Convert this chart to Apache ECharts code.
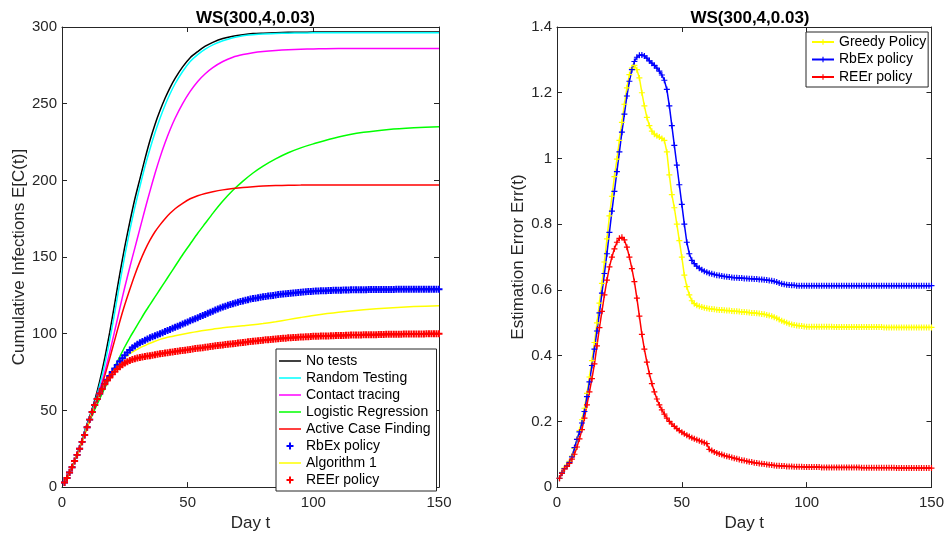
<!DOCTYPE html>
<html><head><meta charset="utf-8">
<script src="https://cdn.jsdelivr.net/npm/echarts@6/dist/echarts.min.js"></script>
<style>html,body{margin:0;padding:0;background:#fff}#c{width:947px;height:537px}</style>
</head><body><div id="c"></div>
<script>
// ---------- DATA ----------
const titleText = 'WS(300,4,0.03)';
const xTicks = [0, 50, 100, 150];
const leftYTicks = [0, 50, 100, 150, 200, 250, 300];
const rightYTicks = [0, 0.2, 0.4, 0.6, 0.8, 1, 1.2, 1.4];

// days for the smooth (marker-less) curves of the left panel
const lineDays = [1,3,5,7,9,11,13,15,17,19,21,23,25,27,29,31,33,35,37,39,41,43,45,48,51,54,57,60,64,68,72,76,80,85,90,95,100,110,120,130,140,150];
const noTests = [3,9.5,17,26,36.5,46,56.5,69,84,101,120,139,157,173,188,201,214,226,236.5,245.5,253.5,260.5,266.5,274,280,284,287.5,290,292.5,294,295,295.7,296,296.3,296.5,296.6,296.7,296.8,296.8,296.8,296.8,296.8];
const randomTesting = [3,9.5,17,26,36,45,55,66.5,80,96,114,133,151,167.5,182.5,196,209,220.5,231,240.5,249,256.5,263,271,277.5,282,285.5,288.3,291,293,294.3,295,295.5,295.8,296,296.1,296.2,296.2,296.2,296.2,296.2,296.2];
const contactTracing = [3,9.5,17,25.5,35,44,53.5,63.5,75,88,102,116.5,130.5,143.5,156,168.5,181,193,204.5,215,224.5,233,240.5,250,258,264.5,269.5,273.5,277.5,280.3,282,283.2,284,284.7,285.2,285.5,285.7,286,286,286,286,286];
const logisticRegression = [3,9.5,17,25.5,34.5,43,50.5,57.5,64.5,71.5,78.5,85,91.5,97.5,103,108.5,114,119,124,129,134,139,144,151.5,158.5,165.5,172,178.5,186.5,193.5,199.5,204.8,209.3,214,218,221.2,223.8,228.3,231.3,233.2,234.3,235];
const activeCaseFinding = [3,9.5,17,25.5,34.5,43.5,52.5,62,72.5,84,96,108,119,129,138.5,147,154.5,161,166.5,171,175,178.5,181.5,185,188,190,191.5,192.6,193.8,194.7,195.4,195.9,196.3,196.6,196.8,196.9,197,197,197,197,197,197];
const algorithm1 = [3,9.5,17,25,34,44,53.5,61,67.3,72.3,76.8,81,84.5,87,89,90.8,92.3,93.8,95.1,96.3,97.2,98,98.7,99.7,100.6,101.5,102.3,103,103.9,104.6,105.2,105.8,106.6,107.8,109.2,110.6,111.9,114,115.6,116.8,117.7,118.3];

// daily values (t = 1..150)
const rbexLeft = [3,6,9.5,13,17,21,25,29.5,34,39,
44,49,53.5,57.5,61,64.2,67.3,70,72.5,75,
77.4,79.7,82,84,86,87.8,89.4,90.8,92,93.1,
94.1,95,95.8,96.6,97.3,98,98.7,99.4,100,100.7,
101.4,102.1,102.8,103.5,104.2,104.9,105.6,106.3,107,107.7,
108.4,109.1,109.8,110.5,111.2,111.9,112.6,113.3,114,114.7,
115.4,116.1,116.8,117.4,118,118.6,119.1,119.6,120.1,120.6,
121,121.4,121.8,122.2,122.6,122.9,123.2,123.5,123.8,124.1,
124.3,124.6,124.8,125,125.3,125.5,125.7,125.9,126.1,126.3,
126.4,126.6,126.8,126.9,127.1,127.2,127.3,127.5,127.6,127.7,
127.8,127.9,128,128,128.1,128.2,128.2,128.3,128.3,128.4,
128.4,128.5,128.5,128.5,128.6,128.6,128.6,128.7,128.7,128.7,
128.7,128.8,128.8,128.8,128.8,128.8,128.9,128.9,128.9,128.9,
128.9,128.9,129,129,129,129,129,129,129,129,
129,129,129,129,129,129,129,129,129,129];
const reerLeft = [3,6,9.5,13,17,21,25,29.5,34,39,
44,49,53.5,57.5,61,64,67,69.5,71.5,73.5,
75.3,77,78.5,79.8,80.9,81.8,82.6,83.2,83.7,84.1,
84.5,84.8,85.1,85.4,85.7,86,86.3,86.6,86.9,87.1,
87.4,87.6,87.9,88.1,88.4,88.6,88.9,89.1,89.3,89.6,
89.8,90,90.3,90.5,90.7,90.9,91.2,91.4,91.6,91.8,
92.1,92.3,92.5,92.7,92.9,93.1,93.3,93.5,93.7,93.9,
94.1,94.3,94.5,94.7,94.9,95.1,95.3,95.5,95.6,95.8,
96,96.1,96.3,96.4,96.6,96.7,96.9,97,97.1,97.3,
97.4,97.5,97.6,97.7,97.8,97.9,98,98.1,98.2,98.3,
98.4,98.4,98.5,98.5,98.6,98.6,98.7,98.7,98.8,98.8,
98.9,98.9,99,99,99.1,99.1,99.1,99.2,99.2,99.3,
99.3,99.3,99.4,99.4,99.4,99.5,99.5,99.5,99.6,99.6,
99.6,99.7,99.7,99.7,99.7,99.8,99.8,99.8,99.8,99.9,
99.9,99.9,99.9,99.9,100,100,100,100,100,100];

const greedyRight = [0.027,0.045,0.058,0.067,0.078,0.094,0.118,0.145,0.172,0.205,
0.24,0.285,0.335,0.385,0.44,0.5,0.56,0.62,0.685,0.755,
0.825,0.885,0.945,0.998,1.055,1.11,1.165,1.215,1.255,1.275,
1.283,1.27,1.245,1.2,1.16,1.125,1.1,1.083,1.074,1.069,
1.065,1.061,1.055,1.02,0.95,0.89,0.85,0.8,0.75,0.7,
0.645,0.61,0.585,0.567,0.558,0.553,0.55,0.548,0.546,0.544,
0.543,0.542,0.541,0.54,0.539,0.539,0.538,0.537,0.537,0.536,
0.535,0.535,0.534,0.533,0.533,0.532,0.531,0.53,0.53,0.529,
0.528,0.527,0.526,0.524,0.522,0.52,0.517,0.514,0.51,0.506,
0.503,0.5,0.497,0.495,0.493,0.492,0.491,0.49,0.489,0.488,
0.488,0.488,0.488,0.488,0.488,0.488,0.488,0.488,0.488,0.488,
0.487,0.487,0.487,0.487,0.487,0.487,0.487,0.487,0.487,0.487,
0.487,0.487,0.487,0.487,0.487,0.487,0.487,0.487,0.487,0.487,
0.486,0.486,0.486,0.486,0.486,0.486,0.486,0.486,0.486,0.486,
0.486,0.486,0.486,0.486,0.486,0.486,0.486,0.486,0.486,0.486];
const rbexRight = [0.027,0.043,0.056,0.065,0.075,0.092,0.12,0.145,0.168,0.195,
0.23,0.275,0.32,0.37,0.42,0.475,0.53,0.59,0.65,0.71,
0.775,0.84,0.9,0.96,1.02,1.08,1.135,1.19,1.235,1.27,
1.295,1.308,1.314,1.315,1.312,1.305,1.297,1.29,1.283,1.275,
1.266,1.254,1.238,1.21,1.16,1.1,1.04,0.98,0.92,0.86,
0.8,0.745,0.71,0.69,0.68,0.672,0.666,0.661,0.657,0.654,
0.651,0.649,0.647,0.645,0.644,0.642,0.641,0.64,0.639,0.638,
0.637,0.637,0.636,0.636,0.635,0.635,0.634,0.634,0.633,0.633,
0.632,0.632,0.631,0.63,0.629,0.628,0.626,0.624,0.621,0.619,
0.617,0.616,0.615,0.614,0.614,0.613,0.613,0.613,0.613,0.613,
0.613,0.613,0.613,0.613,0.613,0.613,0.613,0.613,0.613,0.613,
0.613,0.613,0.613,0.613,0.613,0.613,0.613,0.613,0.613,0.613,
0.613,0.613,0.613,0.613,0.613,0.613,0.613,0.613,0.613,0.613,
0.613,0.613,0.613,0.613,0.613,0.613,0.613,0.613,0.613,0.613,
0.613,0.613,0.613,0.613,0.613,0.613,0.613,0.613,0.613,0.613];
const reerRight = [0.027,0.042,0.055,0.063,0.072,0.085,0.1,0.122,0.147,0.175,
0.21,0.25,0.29,0.33,0.375,0.43,0.485,0.535,0.585,0.63,
0.67,0.7,0.725,0.745,0.757,0.76,0.752,0.73,0.7,0.665,
0.625,0.575,0.52,0.465,0.42,0.38,0.345,0.315,0.29,0.268,
0.25,0.235,0.222,0.21,0.2,0.192,0.185,0.178,0.172,0.167,
0.162,0.158,0.154,0.15,0.147,0.144,0.141,0.138,0.135,0.132,
0.115,0.111,0.107,0.104,0.101,0.099,0.096,0.094,0.092,0.09,
0.088,0.086,0.084,0.082,0.081,0.079,0.077,0.076,0.074,0.073,
0.072,0.071,0.07,0.069,0.068,0.067,0.066,0.065,0.065,0.064,
0.064,0.063,0.063,0.063,0.062,0.062,0.062,0.062,0.061,0.061,
0.061,0.061,0.061,0.061,0.061,0.06,0.06,0.06,0.06,0.06,
0.06,0.06,0.06,0.06,0.06,0.06,0.06,0.06,0.06,0.06,
0.06,0.059,0.059,0.059,0.059,0.059,0.059,0.059,0.059,0.059,
0.059,0.059,0.059,0.059,0.059,0.058,0.058,0.058,0.058,0.058,
0.058,0.058,0.058,0.058,0.058,0.058,0.058,0.058,0.058,0.058];

const leftNames = ['No tests','Random Testing','Contact tracing','Logistic Regression','Active Case Finding','RbEx policy','Algorithm 1','REEr policy'];
const rightNames = ['Greedy Policy','RbEx policy ','REEr policy '];

// ---------- CHART ----------
const days = reerLeft.map((_, i) => i + 1);
const FONT = '"Liberation Sans", Arial, Helvetica, sans-serif';
const AX = '#262626';
const PLUS = 'path://M3.6,0H6.4V3.6H10V6.4H6.4V10H3.6V6.4H0V3.6H3.6Z';
const PLUS_THIN = 'path://M4,0H6V4H10V6H6V10H4V6H0V4H4Z';
const BAR = 'path://M0,0H22V1.5H0Z';
const pairs = (xs, ys) => xs.map((x, i) => [x, ys[i]]);

function xAx(gi, pos, show) {
  return {
    type: 'value', gridIndex: gi, position: pos,
    min: xTicks[0], max: xTicks[xTicks.length - 1], interval: xTicks[1] - xTicks[0],
    axisLine: { show: true, onZero: false, lineStyle: { color: AX, width: 1 } },
    axisTick: { show: true, inside: true, length: 5, lineStyle: { color: AX } },
    axisLabel: { show: show, color: AX, fontSize: 15, fontFamily: FONT, margin: 8 },
    splitLine: { show: false },
    name: show ? 'Day t' : '', nameLocation: 'middle', nameGap: 27,
    nameTextStyle: { color: AX, fontSize: 17, fontFamily: FONT }
  };
}
function yAx(gi, pos, ticks, show, name, gap) {
  return {
    type: 'value', gridIndex: gi, position: pos,
    min: ticks[0], max: ticks[ticks.length - 1], interval: ticks[1] - ticks[0],
    axisLine: { show: true, onZero: false, lineStyle: { color: AX, width: 1 } },
    axisTick: { show: true, inside: true, length: 5, lineStyle: { color: AX } },
    axisLabel: { show: show, color: AX, fontSize: 15, fontFamily: FONT, margin: 5 },
    splitLine: { show: false },
    name: show ? name : '', nameLocation: 'middle', nameGap: gap, nameRotate: 90,
    nameTextStyle: { color: AX, fontSize: 17, fontFamily: FONT }
  };
}
function plainLine(name, xs, ys, color) {
  return { name, type: 'line', xAxisIndex: 0, yAxisIndex: 0, data: pairs(xs, ys),
    symbol: 'none', smooth: 0.25, lineStyle: { color, width: 1.5 }, itemStyle: { color },
    animation: false, silent: true };
}
function markerOnly(name, ys, color) {
  return { name, type: 'line', xAxisIndex: 0, yAxisIndex: 0, data: pairs(days, ys),
    symbol: PLUS, symbolSize: 7, showSymbol: true, showAllSymbol: true,
    lineStyle: { width: 0, opacity: 0 }, itemStyle: { color }, animation: false, silent: true };
}
function lineMarker(name, ys, color) {
  return { name, type: 'line', xAxisIndex: 2, yAxisIndex: 2, data: pairs(days, ys),
    symbol: PLUS_THIN, symbolSize: 6, showSymbol: true, showAllSymbol: true,
    lineStyle: { color, width: 1.5 }, itemStyle: { color }, animation: false, silent: true };
}

const chart = echarts.init(document.getElementById('c'), null, { renderer: 'canvas' });
chart.setOption({
  animation: false,
  backgroundColor: '#fff',
  title: [
    { text: titleText, left: 250.5, top: 5, textAlign: 'center',
      textStyle: { fontSize: 17, fontWeight: 'bold', color: '#000', fontFamily: FONT } },
    { text: titleText, left: 745, top: 5, textAlign: 'center',
      textStyle: { fontSize: 17, fontWeight: 'bold', color: '#000', fontFamily: FONT } }
  ],
  grid: [
    { left: 62, right: 508, top: 27, bottom: 44, show: false },
    { left: 557, right: 14, top: 27, bottom: 44, show: false }
  ],
  xAxis: [xAx(0, 'bottom', true), xAx(0, 'top', false), xAx(1, 'bottom', true), xAx(1, 'top', false)],
  yAxis: [
    yAx(0, 'left', leftYTicks, true, 'Cumulative Infections E[C(t)]', 34),
    yAx(0, 'right', leftYTicks, false, '', 0),
    yAx(1, 'left', rightYTicks, true, 'Estimation Error Err(t)', 26),
    yAx(1, 'right', rightYTicks, false, '', 0)
  ],
  legend: [
    { orient: 'vertical', left: 276, top: 349, itemWidth: 22, itemHeight: 7, itemGap: 3,
      padding: [5, 6, 4, 3], borderColor: AX, borderWidth: 1, backgroundColor: '#fff',
      selectedMode: false, textStyle: { fontSize: 14, color: '#000', fontFamily: FONT },
      data: leftNames.map((n, i) => ({ name: n, icon: (i === 5 || i === 7) ? PLUS : BAR })) },
    { orient: 'vertical', left: 806, top: 32, itemWidth: 22, itemHeight: 7, itemGap: 3.5,
      padding: [3, 2, 3, 5], borderColor: AX, borderWidth: 1, backgroundColor: '#fff',
      selectedMode: false, textStyle: { fontSize: 14, color: '#000', fontFamily: FONT },
      data: rightNames }
  ],
  series: [
    plainLine(leftNames[0], lineDays, noTests, '#000000'),
    plainLine(leftNames[1], lineDays, randomTesting, '#00ffff'),
    plainLine(leftNames[2], lineDays, contactTracing, '#ff00ff'),
    plainLine(leftNames[3], lineDays, logisticRegression, '#00ff00'),
    plainLine(leftNames[4], lineDays, activeCaseFinding, '#ff0000'),
    markerOnly(leftNames[5], rbexLeft, '#0000ff'),
    plainLine(leftNames[6], lineDays, algorithm1, '#ffff00'),
    markerOnly(leftNames[7], reerLeft, '#ff0000'),
    lineMarker(rightNames[0], greedyRight, '#ffff00'),
    lineMarker(rightNames[1], rbexRight, '#0000ff'),
    lineMarker(rightNames[2], reerRight, '#ff0000')
  ]
});
</script>
</body></html>
